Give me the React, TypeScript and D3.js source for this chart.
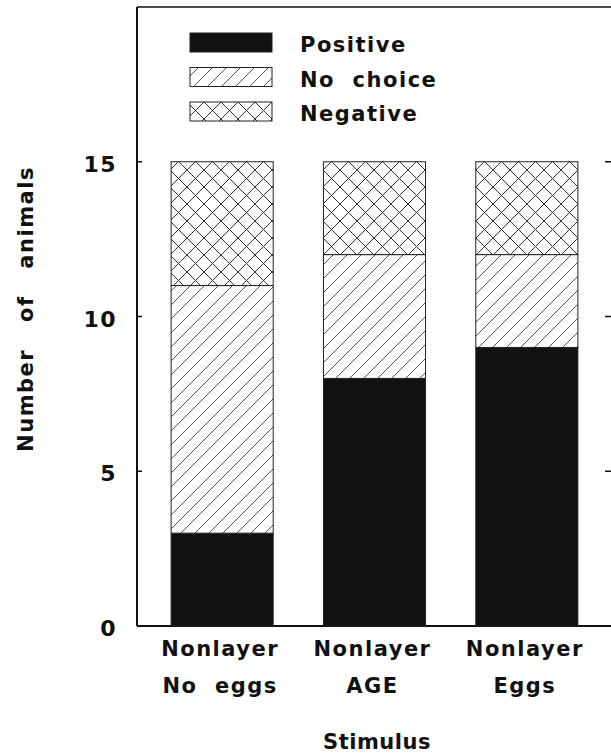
import React from "react";
import * as d3 from "d3";

const categories = ["nle", "age", "eggs"];
const catLine1 = ["Nonlayer", "Nonlayer", "Nonlayer"];
const catLine2 = ["No  eggs", "AGE", "Eggs"];
const positive = [3, 8, 9];
const noChoice = [8, 4, 3];
const negative = [4, 3, 3];
const seriesKeys = ["Positive", "No choice", "Negative"];
const yTicks = [0, 5, 10, 15];

const W = 611;
const H = 754;
const left = 137;
const right = 612;
const top = 7;
const bottom = 626;
const FONT = "'DejaVu Sans', Verdana, sans-serif";

export default function App() {
  const x = d3.scaleBand<string>().domain(categories).range([left, right]).paddingInner(0.33).paddingOuter(0.224);
  const y = d3.scaleLinear().domain([0, 20]).range([bottom, top]);

  const rows = categories.map((c, i) => ({
    cat: c,
    Positive: positive[i],
    "No choice": noChoice[i],
    Negative: negative[i],
  }));
  const stack = d3.stack<any>().keys(seriesKeys)(rows);
  const fills: Record<string, string> = {
    Positive: "#111",
    "No choice": "url(#hatch)",
    Negative: "url(#cross)",
  };

  const textStyle = { fontFamily: FONT, fontWeight: 700, letterSpacing: "1.5px", fill: "#111" } as const;

  return (
    <svg width={W} height={H} style={{ position: "absolute", left: 0, top: 0, background: "#fff" }}>
      <defs>
        <pattern id="hatch" patternUnits="userSpaceOnUse" width={14} height={14}>
          <rect width={14} height={14} fill="#fff" />
          <path d="M-1,15 L15,-1 M-4,4 L4,-4 M10,18 L18,10" stroke="#555" strokeWidth={1} />
        </pattern>
        <pattern id="cross" patternUnits="userSpaceOnUse" width={17} height={17}>
          <rect width={17} height={17} fill="#fff" />
          <path d="M0,0 L17,17 M0,17 L17,0" stroke="#333" strokeWidth={1} />
        </pattern>
      </defs>

      {/* frame */}
      <line x1={left} x2={left} y1={top} y2={bottom} stroke="#111" strokeWidth={2} />
      <line x1={left} x2={W} y1={top} y2={top} stroke="#111" strokeWidth={1.5} />
      <line x1={left} x2={right} y1={bottom} y2={bottom} stroke="#111" strokeWidth={2} />
      <line x1={right} x2={right} y1={top} y2={bottom} stroke="#111" strokeWidth={2} />

      {/* ticks */}
      {yTicks.map((t) => (
        <g key={t}>
          {t > 0 && <line x1={left} x2={left + 5} y1={y(t)} y2={y(t)} stroke="#111" strokeWidth={1.5} />}
          {t > 0 && <line x1={right - 7} x2={right} y1={y(t)} y2={y(t)} stroke="#111" strokeWidth={1.5} />}
          <text x={117} y={y(t) + 10} textAnchor="end" fontSize={22} style={textStyle}>
            {t}
          </text>
        </g>
      ))}

      {/* bars */}
      {stack.map((s) =>
        s.map((d, i) => (
          <rect
            key={s.key + i}
            x={x(categories[i])}
            width={x.bandwidth()}
            y={y(d[1])}
            height={y(d[0]) - y(d[1])}
            fill={fills[s.key]}
            stroke="#222"
            strokeWidth={1}
          />
        ))
      )}

      {/* legend */}
      {seriesKeys.map((k, i) => {
        const ly = 33 + i * 34.5;
        return (
          <g key={k}>
            <rect x={190} y={ly} width={82} height={19} fill={fills[k]} stroke="#222" strokeWidth={1} />
            <text x={300} y={ly + 19} fontSize={21} style={{ ...textStyle, whiteSpace: "pre" }}>
              {k === "No choice" ? "No  choice" : k}
            </text>
          </g>
        );
      })}

      {/* x labels */}
      {categories.map((c, i) => {
        const cx = (x(c) as number) + x.bandwidth() / 2 - 2;
        return (
          <g key={c}>
            <text x={cx} y={656} textAnchor="middle" fontSize={21} style={textStyle}>
              {catLine1[i]}
            </text>
            <text x={cx} y={693} textAnchor="middle" fontSize={21} style={{ ...textStyle, whiteSpace: "pre" }}>
              {catLine2[i]}
            </text>
          </g>
        );
      })}

      <text x={377} y={749} textAnchor="middle" fontSize={21} style={{ ...textStyle, letterSpacing: "0.5px" }}>
        Stimulus
      </text>
      <text
        transform={`translate(33,309) rotate(-90)`}
        textAnchor="middle"
        fontSize={21}
        style={{ ...textStyle, wordSpacing: "18px" }}
      >
        Number of animals
      </text>
    </svg>
  );
}
